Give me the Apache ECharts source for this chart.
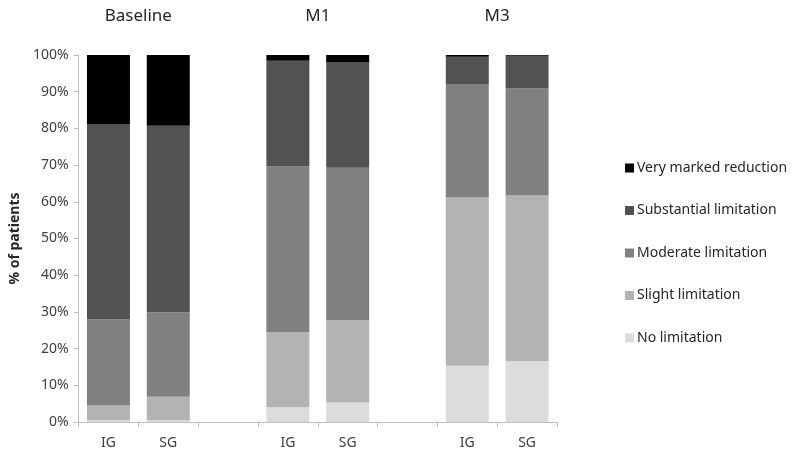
<!DOCTYPE html>
<html>
<head>
<meta charset="utf-8">
<script src="https://cdn.jsdelivr.net/npm/echarts@6/dist/echarts.min.js"></script>
<style>html,body{margin:0;padding:0;background:#fff}#c{width:797px;height:452px}</style>
</head>
<body>
<div id="c"></div>
<script>
var categories = ['IG', 'SG', '', 'IG', 'SG', '', 'IG', 'SG'];
var groupLabels = ['', 'Baseline', '', '', 'M1', '', '', 'M3', ''];
var yTicks = [0, 10, 20, 30, 40, 50, 60, 70, 80, 90, 100];
var noLimitation      = [0.5, 0.5, '-', 4.0, 5.3, '-', 15.3, 16.6];
var slightLimitation  = [4.0, 6.4, '-', 20.5, 22.5, '-', 45.9, 45.1];
var moderateLimitation = [23.4, 23.0, '-', 45.1, 41.5, '-', 30.9, 29.2];
var substantialLimitation = [53.3, 50.8, '-', 28.8, 28.8, '-', 7.4, 8.9];
var veryMarkedReduction = [18.8, 19.3, '-', 1.6, 1.9, '-', 0.5, 0.2];

var names = ['No limitation', 'Slight limitation', 'Moderate limitation', 'Substantial limitation', 'Very marked reduction'];
var colors = ['#dcdcdc', '#b3b3b3', '#808080', '#525252', '#000000'];
var datasets = [noLimitation, slightLimitation, moderateLimitation, substantialLimitation, veryMarkedReduction];

var font = 'Noto Sans';
var chart = echarts.init(document.getElementById('c'), null, {renderer: 'canvas'});
chart.setOption({
  animation: false,
  backgroundColor: '#fff',
  grid: {left: 77, right: 240, top: 55, bottom: 30, containLabel: false},
  legend: {
    orient: 'vertical',
    left: 620,
    top: 156,
    itemWidth: 9,
    itemHeight: 9,
    itemGap: 28.5,
    icon: 'rect',
    data: names.slice().reverse(),
    textStyle: {fontFamily: font, fontSize: 14, color: '#262626', padding: [0, 0, 0, -2]}
  },
  xAxis: [{
    type: 'category',
    data: categories,
    axisLine: {lineStyle: {color: '#bfbfbf', width: 1}},
    axisTick: {show: true, length: 5, lineStyle: {color: '#bfbfbf'}},
    axisLabel: {fontFamily: font, fontSize: 14, color: '#404040', margin: 14, interval: 0}
  }, {
    type: 'category',
    position: 'top',
    boundaryGap: false,
    data: groupLabels,
    axisLine: {show: false},
    axisTick: {show: false},
    axisLabel: {fontFamily: font, fontSize: 17, color: '#262626', margin: 30, interval: 0}
  }],
  yAxis: {
    type: 'value',
    min: yTicks[0],
    max: yTicks[yTicks.length - 1],
    interval: 10,
    name: '% of patients',
    nameLocation: 'middle',
    nameGap: 56,
    nameTextStyle: {fontFamily: font, fontSize: 14, fontWeight: 'bold', color: '#262626'},
    axisLine: {show: true, lineStyle: {color: '#bfbfbf'}},
    axisTick: {show: true, length: 5, lineStyle: {color: '#bfbfbf'}},
    splitLine: {show: false},
    axisLabel: {fontFamily: font, fontSize: 14, color: '#404040', margin: 10, formatter: '{value}%'}
  },
  series: datasets.map(function (d, i) {
    return {
      name: names[i],
      type: 'bar',
      stack: 'total',
      barWidth: 43,
      data: d,
      itemStyle: {color: colors[i]},
      emphasis: {disabled: true}
    };
  })
});
</script>
</body>
</html>
